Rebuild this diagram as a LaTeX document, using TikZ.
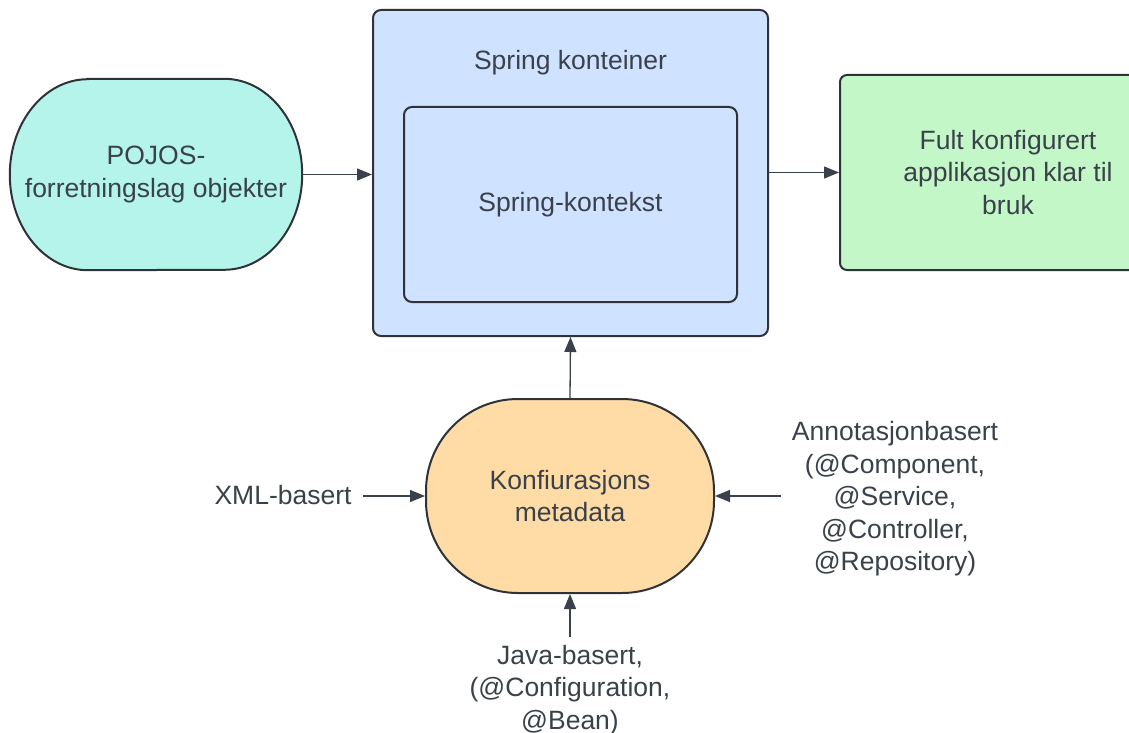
\documentclass[tikz,border=0pt]{standalone}
\usepackage{fontspec}
\setmainfont{Liberation Sans}
\usetikzlibrary{arrows.meta,backgrounds}
\definecolor{txt}{HTML}{3A414A}
\definecolor{bord}{HTML}{2E3339}
\definecolor{teal}{HTML}{B4F4EA}
\definecolor{lblue}{HTML}{CFE2FF}
\definecolor{lgreen}{HTML}{C3F7C8}
\definecolor{lorange}{HTML}{FFDBA6}
\tikzset{
  base/.style={font=\fontsize{26.5}{32.5}\selectfont, text=txt, align=center},
  shapebox/.style={base, draw=bord, line width=2pt, inner sep=0pt},
  lbl/.style={base, inner sep=9pt},
  arr/.style={draw=txt, line width=1.3pt, -{Triangle[length=15pt,width=12pt]}},
}
\begin{document}
\begin{tikzpicture}[x=1pt,y=-1pt]
\useasboundingbox (0,0) rectangle (1129,733);
\clip (0,0) rectangle (1129,733);
% container
\node[shapebox, fill=lblue, rounded corners=8pt, minimum width=395pt, minimum height=326pt] (cont) at (570.5,173) {};
\node[shapebox, fill=lblue, rounded corners=8pt, minimum width=333pt, minimum height=195pt] (ctx) at (570.5,204.5) {Spring-kontekst};
\node[base] (title) at (570.5,63) {Spring konteiner};
% pojos
\node[base, inner sep=0pt, minimum width=292pt, minimum height=191pt] (pojo) at (156,174.5) {POJOS-\\forretningslag objekter};
\begin{scope}[on background layer]
\path[fill=teal, draw=bord, line width=2pt]
  ([xshift=78pt]pojo.north west) -- ([xshift=-78pt]pojo.north east)
  arc[start angle=90, end angle=-90, x radius=78pt, y radius=95.5pt]
  -- ([xshift=78pt]pojo.south west)
  arc[start angle=270, end angle=90, x radius=78pt, y radius=95.5pt] -- cycle;
\end{scope}
% green
\node[shapebox, fill=lgreen, rounded corners=7pt, minimum width=336pt, minimum height=195pt] (app) at (1008,172.5) {Fult konfigurert\\applikasjon klar til\\bruk};
% config
\node[shapebox, fill=lorange, rounded corners=92pt, minimum width=288pt, minimum height=194pt] (konf) at (570,496) {Konfiurasjons\\metadata};
% labels
\node[lbl, inner sep=11pt] (xml) at (283,495) {XML-basert};
\node[lbl, inner sep=11pt] (anno) at (895,499) {Annotasjonbasert\\(@Component,\\@Service,\\@Controller,\\@Repository)};
\node[lbl, inner sep=8pt] (java) at (570,690) {Java-basert,\\(@Configuration,\\@Bean)};
% connectors
\draw[arr] (pojo.east) -- (pojo.east -| cont.west);
\draw[arr] (cont.east |- app.west) -- (app.west);
\draw[arr] (konf.north) -- (cont.south);
\draw[arr] (xml.east |- konf.west) -- (konf.west);
\draw[arr] (anno.west |- konf.east) -- (konf.east);
\draw[arr] (java.north) -- (konf.south);
\end{tikzpicture}
\end{document}
